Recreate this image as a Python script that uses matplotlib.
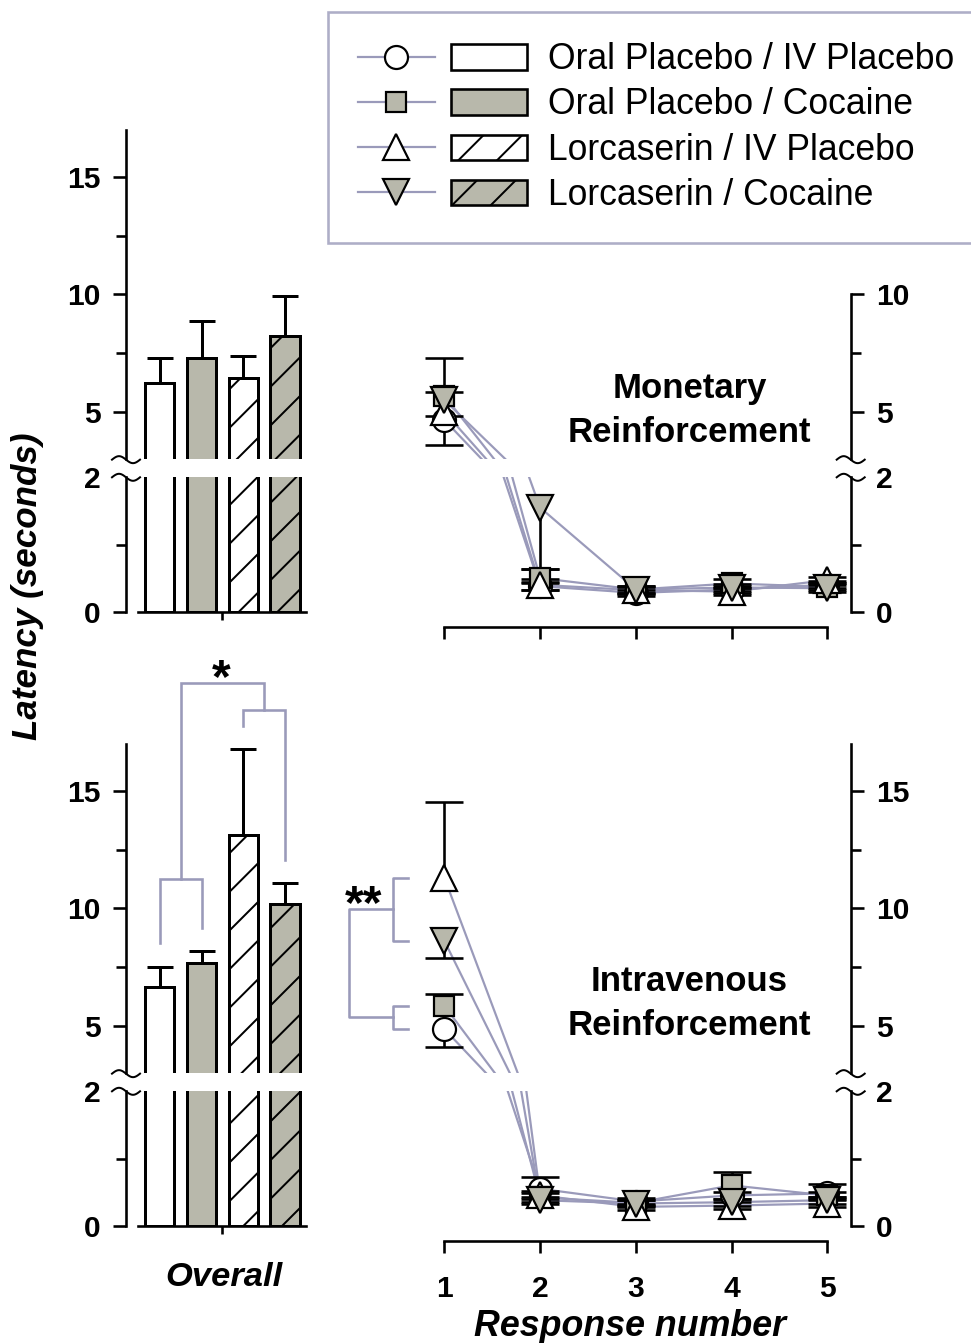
import numpy as np
import matplotlib
matplotlib.use("Agg")
import matplotlib.pyplot as plt
from matplotlib.lines import Line2D
from matplotlib.patches import Patch
from matplotlib.legend_handler import HandlerTuple

# ------------------------------------------------------------------ data
groups = ["Oral Placebo / IV Placebo", "Oral Placebo / Cocaine",
          "Lorcaserin / IV Placebo", "Lorcaserin / Cocaine"]
response_number = [1, 2, 3, 4, 5]
overall_label = "Overall"

# Overall latency (bars): mean and SEM
mon_overall_mean = [6.21, 7.30, 6.42, 8.24]
mon_overall_sem = [1.06, 1.55, 0.96, 1.67]
iv_overall_mean = [6.63, 7.66, 13.11, 10.17]
iv_overall_sem = [0.88, 0.51, 3.66, 0.89]

# Monetary reinforcement, latency by response number
mon_opl_ivpl = [4.65, 0.38, 0.28, 0.33, 0.40]
mon_opl_coc = [5.68, 0.50, 0.33, 0.42, 0.37]
mon_lor_ivpl = [5.00, 0.40, 0.32, 0.30, 0.47]
mon_lor_coc = [5.50, 1.55, 0.33, 0.36, 0.35]
# SEM drawn below (lo) / above (hi)
mon_opl_ivpl_lo = [1.07, 0.06, 0.05, 0.05, 0.05]
mon_opl_ivpl_hi = [0.00, 0.06, 0.05, 0.05, 0.05]
mon_opl_coc_lo = [0.00, 0.08, 0.05, 0.06, 0.05]
mon_opl_coc_hi = [1.59, 0.13, 0.05, 0.06, 0.05]
mon_lor_ivpl_lo = [0.00, 0.08, 0.05, 0.05, 0.05]
mon_lor_ivpl_hi = [0.85, 0.08, 0.05, 0.05, 0.05]
mon_lor_coc_lo = [0.70, 0.92, 0.05, 0.05, 0.05]
mon_lor_coc_hi = [0.00, 0.00, 0.05, 0.05, 0.05]

# Intravenous reinforcement, latency by response number
iv_opl_ivpl = [4.86, 0.55, 0.36, 0.45, 0.48]
iv_opl_coc = [5.85, 0.42, 0.34, 0.60, 0.45]
iv_lor_ivpl = [11.31, 0.45, 0.28, 0.30, 0.33]
iv_lor_coc = [8.62, 0.38, 0.33, 0.35, 0.38]
iv_opl_ivpl_lo = [0.78, 0.00, 0.05, 0.05, 0.05]
iv_opl_ivpl_hi = [0.00, 0.18, 0.05, 0.05, 0.14]
iv_opl_coc_lo = [0.00, 0.06, 0.04, 0.00, 0.05]
iv_opl_coc_hi = [0.50, 0.06, 0.04, 0.20, 0.05]
iv_lor_ivpl_lo = [0.00, 0.06, 0.05, 0.05, 0.05]
iv_lor_ivpl_hi = [3.22, 0.06, 0.05, 0.05, 0.05]
iv_lor_coc_lo = [0.74, 0.05, 0.05, 0.05, 0.05]
iv_lor_coc_hi = [0.00, 0.05, 0.05, 0.05, 0.05]

panel_titles = ["Monetary\nReinforcement", "Intravenous\nReinforcement"]

# ------------------------------------------------------------------ style
W, H = 972, 1343
DPI = 116


def pt(px):
    return px * 72.0 / DPI


GRAY = "#b8b8ab"
LAV = "#9a9aba"
LW = pt(2.6)
TICK_FS = pt(30)
plt.rcParams["font.family"] = ["Liberation Sans", "DejaVu Sans"]
plt.rcParams["font.weight"] = "bold"
plt.rcParams["hatch.linewidth"] = pt(2.0)
plt.rcParams["hatch.color"] = "black"

bar_fill = ["white", GRAY, "white", GRAY]
bar_hatch = [None, None, "/", "/"]
markers = ["o", "s", "^", "v"]
marker_fill = ["white", GRAY, "white", GRAY]
marker_size = [pt(23), pt(20), pt(26), pt(26)]

fig = plt.figure(figsize=(W / DPI, H / DPI), dpi=DPI)

# pixel geometry of the broken axes
UP_Y5, UP_S = 411.7, 23.48     # upper segment: value 5 position, px per unit
LO_Y0, LO_S = 611.7, 67.2      # lower segment: value 0 position, px per unit
PANEL_OFF = [0, 614]
LX0, LX1 = 138, 306            # left panels x extent
RX0, RX1 = 401.2, 850.7        # right panels x extent
L_XLIM = (-0.52, 3.5)
R_XLIM = (0.55, 5.244)
UP_LO = 3.0


def up_px(v, off):
    return UP_Y5 + off - (v - 5) * UP_S


def lo_px(v, off):
    return LO_Y0 + off - v * LO_S


def add_ax(x0, x1, y_top, y_bot):
    return fig.add_axes([x0 / W, 1 - y_bot / H, (x1 - x0) / W, (y_bot - y_top) / H])


def draw_err(ax, x, y, lo, hi, lw, capw, z=3):
    x = np.asarray(x, float)
    y = np.asarray(y, float)
    lo = np.asarray(lo, float)
    hi = np.asarray(hi, float)
    for m, end in ((hi > 0, y + hi), (lo > 0, y - lo)):
        if m.any():
            ax.vlines(x[m], y[m], end[m], colors="k", linewidth=lw, zorder=z)
            ax.plot(x[m], end[m], ls="none", marker="_", ms=capw, mew=lw,
                    color="k", zorder=z)


def break_mark(x0, y0):
    t = np.linspace(-1, 1, 40)
    xs = x0 + 14 * t
    ys = y0 - 3.5 * np.sin(np.pi * (t + 1))
    fig.add_artist(Line2D(xs / W, 1 - ys / H, transform=fig.transFigure,
                          color="k", lw=pt(2.0)))


overall_means = [mon_overall_mean, iv_overall_mean]
overall_sems = [mon_overall_sem, iv_overall_sem]
series_means = [[mon_opl_ivpl, mon_opl_coc, mon_lor_ivpl, mon_lor_coc],
                [iv_opl_ivpl, iv_opl_coc, iv_lor_ivpl, iv_lor_coc]]
series_lo = [[mon_opl_ivpl_lo, mon_opl_coc_lo, mon_lor_ivpl_lo, mon_lor_coc_lo],
             [iv_opl_ivpl_lo, iv_opl_coc_lo, iv_lor_ivpl_lo, iv_lor_coc_lo]]
series_hi = [[mon_opl_ivpl_hi, mon_opl_coc_hi, mon_lor_ivpl_hi, mon_lor_coc_hi],
             [iv_opl_ivpl_hi, iv_opl_coc_hi, iv_lor_ivpl_hi, iv_lor_coc_hi]]
right_top = [10.07, 17.0]
bar_x = np.arange(len(groups))

axes_store = []
for p in range(2):
    off = PANEL_OFF[p]
    axUL = add_ax(LX0, LX1, up_px(17, off), up_px(UP_LO, off))
    axLL = add_ax(LX0, LX1, lo_px(2, off), lo_px(0, off))
    axUR = add_ax(RX0, RX1, up_px(right_top[p], off), up_px(UP_LO, off))
    axLR = add_ax(RX0, RX1, lo_px(2, off), lo_px(0, off))
    axes_store.append((axUL, axLL, axUR, axLR))

    # ---------- bars (left)
    for ax in (axUL, axLL):
        ax.bar(bar_x, overall_means[p], width=0.7, color=bar_fill,
               edgecolor="k", linewidth=pt(3), hatch=bar_hatch, zorder=2)
        draw_err(ax, bar_x, overall_means[p], np.zeros(4), overall_sems[p],
                 pt(3), pt(27))
        ax.set_xlim(*L_XLIM)
        ax.spines[["top", "right"]].set_visible(False)
        ax.spines["left"].set_position(("outward", pt(12)))
        ax.spines["left"].set_linewidth(LW)
        ax.spines["bottom"].set_linewidth(LW)
        ax.tick_params(axis="y", which="major", length=pt(13), width=LW,
                       pad=pt(12), labelsize=TICK_FS)
        ax.tick_params(axis="y", which="minor", length=pt(10), width=LW)
        ax.patch.set_visible(False)
    axUL.set_ylim(UP_LO, 17)
    axUL.spines["bottom"].set_visible(False)
    axUL.set_xticks([])
    axUL.set_yticks([5, 10, 15])
    axUL.set_yticks([7.5, 12.5], minor=True)
    axLL.set_ylim(0, 2)
    axLL.set_yticks([0, 2])
    axLL.set_yticks([1], minor=True)
    axLL.yaxis.get_major_ticks()[1].tick1line.set_visible(False)
    axLL.set_xticks([1.5])
    axLL.set_xticklabels([""])
    axLL.tick_params(axis="x", length=pt(8), width=LW)

    # ---------- lines (right)
    for ax in (axUR, axLR):
        for s in range(4):
            ax.plot(response_number, series_means[p][s], color=LAV, lw=pt(2.2),
                    zorder=2)
        for s in range(4):
            draw_err(ax, response_number, series_means[p][s], series_lo[p][s],
                     series_hi[p][s], pt(2.6), pt(38))
        for s in range(4):
            ax.plot(response_number, series_means[p][s], ls="none",
                    marker=markers[s], ms=marker_size[s], mfc=marker_fill[s],
                    mec="k", mew=pt(2.2), zorder=4)
        ax.set_xlim(*R_XLIM)
        ax.spines[["top", "left"]].set_visible(False)
        ax.spines["right"].set_linewidth(LW)
        ax.spines["bottom"].set_linewidth(LW)
        ax.yaxis.tick_right()
        ax.tick_params(axis="y", which="major", length=pt(13), width=LW,
                       pad=pt(12), labelsize=TICK_FS)
        ax.tick_params(axis="y", which="minor", length=pt(10), width=LW)
        ax.patch.set_visible(False)
    axUR.set_ylim(UP_LO, right_top[p])
    axUR.spines["bottom"].set_visible(False)
    axUR.spines["right"].set_bounds(UP_LO, 10 if p == 0 else 17)
    axUR.set_xticks([])
    if p == 0:
        axUR.set_yticks([5, 10])
        axUR.set_yticks([7.5], minor=True)
    else:
        axUR.set_yticks([5, 10, 15])
        axUR.set_yticks([7.5, 12.5], minor=True)
    axLR.set_ylim(0, 2)
    axLR.set_yticks([0, 2])
    axLR.set_yticks([1], minor=True)
    axLR.yaxis.get_major_ticks()[1].tick2line.set_visible(False)
    axLR.spines["bottom"].set_position(("outward", pt(15)))
    axLR.spines["bottom"].set_bounds(1, 5)
    axLR.set_xticks(response_number)
    axLR.tick_params(axis="x", length=pt(12), width=LW, pad=pt(22),
                     labelsize=TICK_FS)
    if p == 0:
        axLR.set_xticklabels([""] * 5)

    # panel title
    axUR.text(3.56, 5.05 if p == 0 else 5.95, panel_titles[p], ha="center",
              va="center", fontsize=pt(34.7), fontweight="bold",
              linespacing=1.4, zorder=5)

    # axis break marks
    for xs in (LX0 - 12, RX1):
        break_mark(xs, up_px(UP_LO, off) + 1)
        break_mark(xs, lo_px(2, off))

# ------------------------------------------------------------------ labels
axUL2, axLL2, axUR2, axLR2 = axes_store[1]
axLL2.set_xlabel(overall_label, fontsize=pt(34.5), fontweight="bold",
                 fontstyle="italic", va="center")
axLL2.xaxis.set_label_coords(0.51, -0.389)
axLR2.set_xlabel("Response number", fontsize=pt(35.8), fontweight="bold",
                 fontstyle="italic", va="center")
axLR2.xaxis.set_label_coords(0.509, -0.75)
fig.text(28 / W, 1 - 586 / H, "Latency (seconds)", rotation=90, ha="center",
         va="center", fontsize=pt(35), fontweight="bold", fontstyle="italic")

# ------------------------------------------------------------------ significance brackets
blw = pt(2.6)
m = np.asarray(iv_overall_mean) + np.asarray(iv_overall_sem) + 1.0
axUL2.plot([0, 0, 1, 1], [m[0], 11.24, 11.24, m[1]], color=LAV, lw=blw,
           clip_on=False, solid_joinstyle="miter")
axUL2.plot([0.5, 0.5, 2.5, 2.5], [11.24, 19.61, 19.61, 18.43], color=LAV,
           lw=blw, clip_on=False, solid_joinstyle="miter")
axUL2.plot([2, 2, 3, 3], [m[2], 18.43, 18.43, m[3]], color=LAV, lw=blw,
           clip_on=False, solid_joinstyle="miter")
axUL2.text(1.46, 19.2, "*", ha="center", va="baseline", fontsize=pt(48),
           fontweight="bold")

v_up, v_dn = iv_lor_ivpl[0], iv_lor_coc[0]
v_sq, v_ci = iv_opl_coc[0], iv_opl_ivpl[0]
hi_mid, lo_mid = (v_up + v_dn) / 2, (v_sq + v_ci) / 2
axUR2.plot([0.62, 0.46, 0.46, 0.62], [v_up, v_up, v_dn, v_dn], color=LAV,
           lw=blw, clip_on=False)
axUR2.plot([0.62, 0.46, 0.46, 0.62], [v_sq, v_sq, v_ci, v_ci], color=LAV,
           lw=blw, clip_on=False)
axUR2.plot([0.46, 0.0, 0.0, 0.46], [hi_mid, hi_mid, lo_mid, lo_mid],
           color=LAV, lw=blw, clip_on=False)
axUR2.text(0.154, 9.6, "**", ha="center", va="baseline", fontsize=pt(48),
           fontweight="bold")

# ------------------------------------------------------------------ legend
handles = []
for s in range(4):
    ln = Line2D([], [], color=LAV, lw=pt(2.2), marker=markers[s],
                ms=marker_size[s], mfc=marker_fill[s], mec="k", mew=pt(2.2))
    pa = Patch(facecolor=bar_fill[s], edgecolor="k", linewidth=pt(2.6),
               hatch=bar_hatch[s])
    handles.append((ln, pa))
leg = fig.legend(handles, groups, loc="upper left",
                 bbox_to_anchor=(328 / W, 1 - 12 / H), borderaxespad=0,
                 frameon=True, fancybox=False, edgecolor=LAV,
                 prop={"size": pt(35.5), "weight": "normal"},
                 handlelength=4.76, handleheight=0.73, handletextpad=0.59,
                 borderpad=0.85, labelspacing=0.29,
                 handler_map={tuple: HandlerTuple(ndivide=None, pad=0.45)})
leg.get_frame().set_linewidth(pt(2.6))

fig.savefig("out.png", dpi=DPI)
